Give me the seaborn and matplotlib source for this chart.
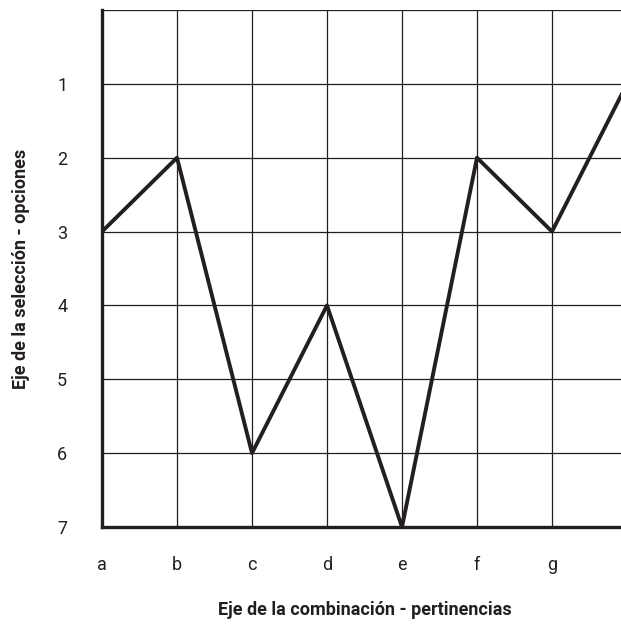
import pandas as pd
import matplotlib
matplotlib.use("Agg")
import matplotlib.pyplot as plt
import seaborn as sns

# Data
categorias = ["a", "b", "c", "d", "e", "f", "g", "h"]
opciones = [3, 2, 6, 4, 7, 2, 3, 1]
etiquetas_x = ["a", "b", "c", "d", "e", "f", "g"]
etiquetas_y = ["", "1", "2", "3", "4", "5", "6", "7"]

df = pd.DataFrame({"categoria": categorias, "opcion": opciones})

sns.set_theme(style="white")
plt.rcParams["font.family"] = ["Roboto", "DejaVu Sans"]

fig = plt.figure(figsize=(6.21, 6.29), dpi=100)
# axes extends a bit past the right edge, like the reference (cut off)
ax = fig.add_axes([102 / 621, 1 - 527 / 629, 525 / 621, 517 / 629])

sns.lineplot(data=df, x="categoria", y="opcion", ax=ax, color="#231f20",
             linewidth=2.8, sort=False, clip_on=True)

ax.set_xlim(0, 7)
ax.set_ylim(7, 0)
ax.set_xticks(range(len(etiquetas_x)))
ax.set_xticklabels(etiquetas_x)
ax.set_yticks(range(len(etiquetas_y)))
ax.set_yticklabels(etiquetas_y)

ax.grid(True, color="#231f20", linewidth=0.9)
ax.set_axisbelow(True)
for s in ["top", "right"]:
    ax.spines[s].set_visible(False)
for s in ["left", "bottom"]:
    ax.spines[s].set_color("#231f20")
    ax.spines[s].set_linewidth(2.4)

ax.tick_params(axis="both", length=0, labelsize=13, colors="#231f20")
ax.tick_params(axis="y", pad=25)
ax.tick_params(axis="x", pad=21)

ax.set_xlabel("Eje de la combinación - pertinencias", fontsize=13,
              fontweight="bold", color="#231f20")
ax.set_ylabel("Eje de la selección - opciones", fontsize=13,
              fontweight="bold", color="#231f20")
ax.xaxis.set_label_coords(0.5, -0.16)
ax.yaxis.set_label_coords(-0.155, 0.5)
ax.xaxis.label.set_va("center")
ax.yaxis.label.set_va("center")

fig.savefig("out.png", dpi=100)
plt.close(fig)
